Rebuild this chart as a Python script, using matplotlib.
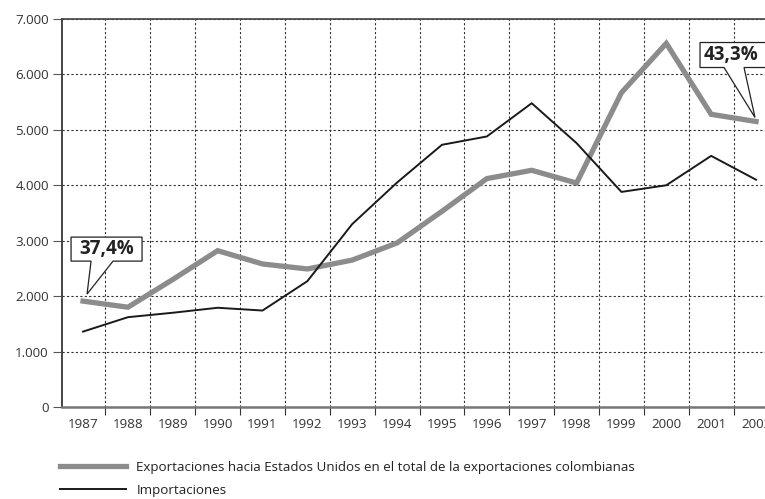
import numpy as np
import matplotlib
matplotlib.use("Agg")
import matplotlib.pyplot as plt
from matplotlib.patches import Polygon

plt.rcParams['font.family'] = ['Open Sans', 'DejaVu Sans']

# ---------- data ----------
years = ["1987", "1988", "1989", "1990", "1991", "1992", "1993", "1994",
         "1995", "1996", "1997", "1998", "1999", "2000", "2001", "2002"]
exportaciones = [1910, 1800, 2300, 2820, 2580, 2490, 2650, 2960,
                 3530, 4120, 4270, 4040, 5670, 6560, 5280, 5150]
importaciones = [1360, 1620, 1700, 1790, 1740, 2270, 3300, 4050,
                 4730, 4880, 5480, 4760, 3880, 4000, 4530, 4100]
y_ticks = [0, 1000, 2000, 3000, 4000, 5000, 6000, 7000]
y_tick_labels = ["0", "1.000", "2.000", "3.000", "4.000", "5.000", "6.000", "7.000"]
label_export = "Exportaciones hacia Estados Unidos en el total de la exportaciones colombianas"
label_import = "Importaciones"
callouts = [(0, "37,4%"), (15, "43,3%")]

# ---------- figure ----------
fig = plt.figure(figsize=(7.65, 4.99), dpi=100)
ax = fig.add_axes([0.081, 0.1844, 0.919, 0.7776])

x = np.arange(len(years))
l_exp, = ax.plot(x, exportaciones, color="#8c8c8c", lw=3.8, solid_joinstyle="miter",
                 label=label_export, zorder=3)
l_imp, = ax.plot(x, importaciones, color="#1a1a1a", lw=1.4, label=label_import, zorder=4)

ax.set_xlim(-0.47, 15.2)
ax.set_ylim(0, 7000)

# axis ticks
ax.set_yticks(y_ticks)
ax.set_yticklabels(y_tick_labels)
ax.set_xticks(x)
ax.set_xticklabels(years)
ax.set_xticks(x[:-1] + 0.5, minor=True)
ax.tick_params(axis="x", which="major", length=0, pad=8, labelsize=9.6, labelcolor="#333333")
ax.tick_params(axis="x", which="minor", length=6, width=0.8, color="#333333", direction="out")
ax.tick_params(axis="y", length=6.5, width=0.8, color="#555555", pad=3, labelsize=9.6,
               labelcolor="#333333")

# grid
ax.grid(True, axis="y", which="major", color="#333333", lw=0.8, linestyle=(0, (2, 2)))
ax.grid(True, axis="x", which="minor", color="#333333", lw=0.8, linestyle=(0, (2, 2)))
ax.set_axisbelow(True)

# spines
ax.spines["right"].set_visible(False)
ax.spines["left"].set_color("#444444")
ax.spines["left"].set_linewidth(1.4)
ax.spines["bottom"].set_color("#777777")
ax.spines["bottom"].set_linewidth(1.8)
ax.spines["top"].set_color("#444444")
ax.spines["top"].set_linewidth(1.2)

# ---------- callouts (offsets in pixels relative to data point) ----------
shapes = {
    "37,4%": dict(tip=(4, 7), left=-12, right=59, bottom=40, top=64, w1=8, w2=30),
    "43,3%": dict(tip=(-1, 4), left=-56, right=12, bottom=54, top=79, w1=-32, w2=-12),
}
for idx, txt in callouts:
    s = shapes[txt]
    px, py = ax.transData.transform((x[idx], exportaciones[idx]))
    verts = [(s["left"], s["bottom"]), (s["w1"], s["bottom"]), s["tip"],
             (s["w2"], s["bottom"]), (s["right"], s["bottom"]),
             (s["right"], s["top"]), (s["left"], s["top"])]
    verts = [(px + vx, py + vy) for vx, vy in verts]
    poly = Polygon(verts, closed=True, facecolor="white", edgecolor="#222222", lw=0.9,
                   transform=None, zorder=6, clip_on=False)
    fig.patches.append(poly)
    cx = px + (s["left"] + s["right"]) / 2 + (0 if idx == 0 else -3)
    cy = py + (s["bottom"] + s["top"]) / 2
    fig.text(cx / fig.dpi / fig.get_figwidth(), cy / fig.dpi / fig.get_figheight(), txt,
             ha="center", va="center", fontsize=13.5, fontweight="bold", color="#222222",
             zorder=7)

# ---------- legend ----------
fig.legend(handles=[l_exp, l_imp], loc="upper left", bbox_to_anchor=(0.072, 0.087),
           frameon=False, fontsize=9.6, handlelength=4.9, handletextpad=0.8,
           labelspacing=0.75, borderaxespad=0, labelcolor="#222222")

fig.savefig("out.png", dpi=100)
